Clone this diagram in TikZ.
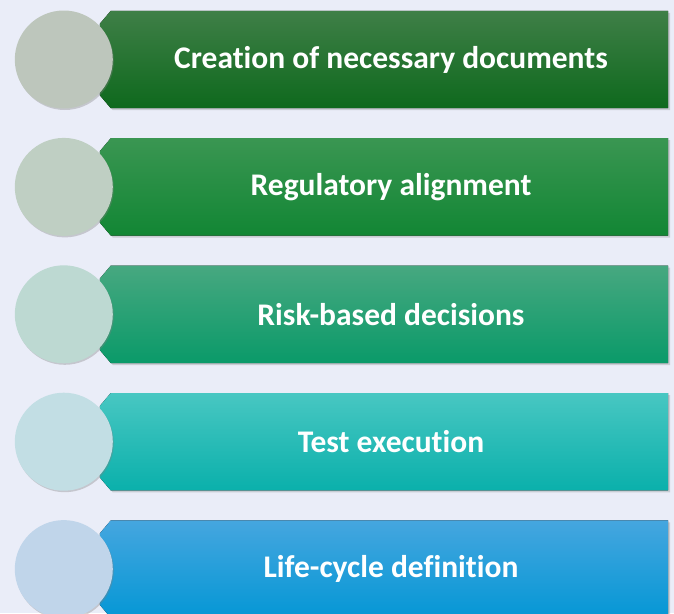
\documentclass[tikz,border=0pt]{standalone}
\usepackage{fontspec}
\setmainfont{Carlito}[Ligatures=NoCommon]
\usetikzlibrary{positioning, shadows}
\definecolor{bgcol}{HTML}{EAEDF8}
\definecolor{barAtop}{HTML}{3F7F47}
\definecolor{barAbot}{HTML}{0E691D}
\definecolor{barBtop}{HTML}{3A9652}
\definecolor{barBbot}{HTML}{128634}
\definecolor{barCtop}{HTML}{47A880}
\definecolor{barCbot}{HTML}{0A9A69}
\definecolor{barDtop}{HTML}{48C7C2}
\definecolor{barDbot}{HTML}{0AB0AB}
\definecolor{barEtop}{HTML}{45A6DF}
\definecolor{barEbot}{HTML}{0597D5}
\definecolor{dotA}{HTML}{BDC6BC}
\definecolor{dotB}{HTML}{BFCFC3}
\definecolor{dotC}{HTML}{BDD9D2}
\definecolor{dotD}{HTML}{C2DEE4}
\definecolor{dotE}{HTML}{C0D5EA}
\tikzset{%
  bar/.style={rectangle, minimum width=568pt, minimum height=97pt, inner sep=0pt},
  barfill/.style={drop shadow={shadow xshift=2pt, shadow yshift=-2pt, opacity=0.3}},
  bartext/.style={text=white, font=\fontsize{31.5}{36}\selectfont\bfseries, inner sep=0pt},
  dot/.style={circle, minimum size=98pt, inner sep=0pt,
    drop shadow={shadow xshift=1pt, shadow yshift=-1.5pt, opacity=0.35}},
}
\begin{document}
\begin{tikzpicture}
  \fill[bgcol] (0pt,0pt) rectangle (674pt,-613pt);
  \useasboundingbox (0pt,0pt) rectangle (674pt,-613pt);
  \clip (0pt,0pt) rectangle (674pt,-613pt);

  \node[bar] (b1) at (384pt,-59.5pt) {};
  \node[bar, below=30pt of b1] (b2) {};
  \node[bar, below=30pt of b2] (b3) {};
  \node[bar, below=30pt of b3] (b4) {};
  \node[bar, below=30pt of b4] (b5) {};

  % bars with cut corners on the left
  \foreach \b/\ctop/\cbot in {b1/barAtop/barAbot, b2/barBtop/barBbot, b3/barCtop/barCbot,
                              b4/barDtop/barDbot, b5/barEtop/barEbot}
    \fill[barfill, top color=\ctop, bottom color=\cbot]
      ([xshift=11pt]\b.north west) -- (\b.north east) -- (\b.south east)
      -- ([xshift=11pt]\b.south west) -- ([yshift=13pt]\b.south west)
      -- ([yshift=-13pt]\b.north west) -- cycle;

  \node[bartext] (t1) at ([xshift=7pt]b1.center) {Creation of necessary documents};
  \node[bartext] (t2) at ([xshift=7pt]b2.center) {Regulatory alignment};
  \node[bartext] (t3) at ([xshift=7pt]b3.center) {Risk-based decisions};
  \node[bartext] (t4) at ([xshift=7pt]b4.center) {Test execution};
  \node[bartext] (t5) at ([xshift=7pt]b5.center) {Life-cycle definition};

  \node[dot, fill=dotA] (c1) at ([xshift=-36pt]b1.west) {};
  \node[dot, fill=dotB, below=29pt of c1] (c2) {};
  \node[dot, fill=dotC, below=29pt of c2] (c3) {};
  \node[dot, fill=dotD, below=29pt of c3] (c4) {};
  \node[dot, fill=dotE, below=29pt of c4] (c5) {};
\end{tikzpicture}
\end{document}
